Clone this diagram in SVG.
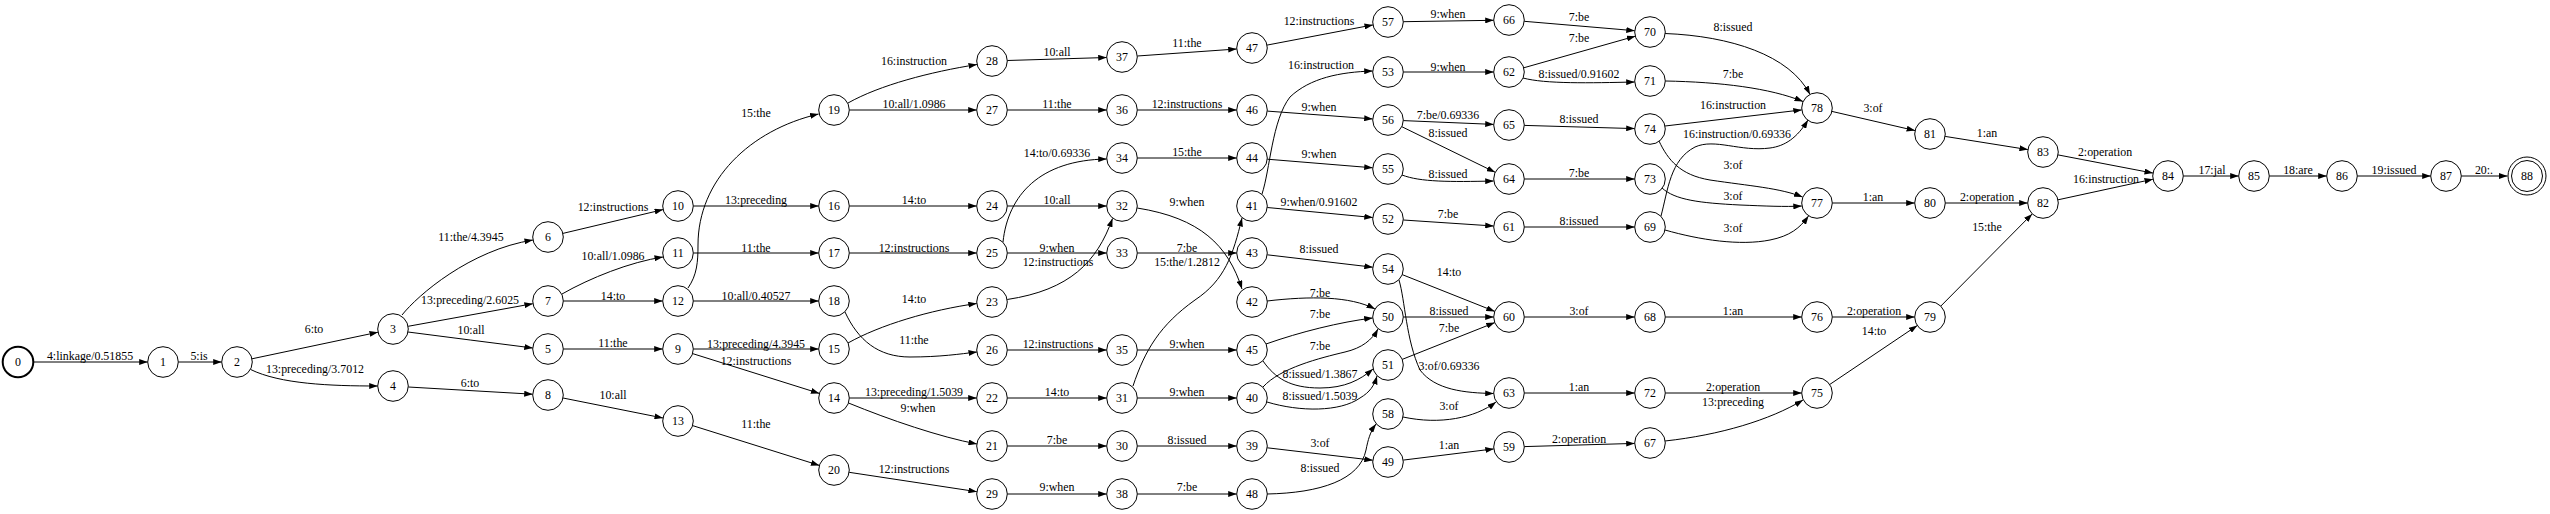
<svg xmlns="http://www.w3.org/2000/svg" width="2550" height="514" viewBox="0 0 2550 514">
<style>
.node circle{fill:#fff;stroke:#000;stroke-width:1}
.node text,.lbl text{font-family:"Liberation Serif","Times New Roman",serif;font-size:11.9px;fill:#000;text-anchor:middle}
.edges path{fill:none;stroke:#000;stroke-width:1;marker-end:url(#ah)}
</style>
<defs>
<marker id="ah" viewBox="0 0 10 7" refX="10" refY="3.5" markerWidth="8.5" markerHeight="6" markerUnits="userSpaceOnUse" orient="auto"><path d="M0,0 L10,3.5 L0,7 z" fill="#000"/></marker>
</defs>
<rect width="2550" height="514" fill="#fff"/>
<g id="connectors" class="edges">
<path d="M34,362 L147.7,362"/>
<path d="M178.3,362 L221.7,362"/>
<path d="M252,358.8 L378,332.2"/>
<path d="M250.4,369.4 C280,384 330,386 377.7,386"/>
<path d="M402,315 C418,295 470,250 533,240"/>
<path d="M408.1,326.3 L532.9,303.7"/>
<path d="M408,332 Q470,340 532.8,348"/>
<path d="M408.3,387 L532.7,394.2"/>
<path d="M562.9,233.4 L663.1,209.6"/>
<path d="M562,294 C590,278 630,262 663,257"/>
<path d="M563.3,301 L662.7,301"/>
<path d="M563.3,349 L662.7,349"/>
<path d="M563,398 L663,418"/>
<path d="M693.3,206 L818.7,206"/>
<path d="M693.3,253 L818.7,253"/>
<path d="M688,288 C697,275 698,262 698,245 C698,180 750,130 818.6,114"/>
<path d="M693.3,301 L818.7,301"/>
<path d="M693.3,349 L818.7,349"/>
<path d="M692.6,353.6 L819.4,393.4"/>
<path d="M692.6,425.6 L819.4,465.4"/>
<path d="M848,103 C880,85 930,72 977,64.5"/>
<path d="M849.3,110 L976.7,110"/>
<path d="M849.3,206 L976.7,206"/>
<path d="M849.3,253 L976.7,253"/>
<path d="M845,312 C858,340 878,357 910,357 C940,357 960,354 977,352"/>
<path d="M848,343 C880,325 930,310 976.8,303.5"/>
<path d="M849.3,398 L976.7,398"/>
<path d="M848.5,403 C890,420 940,437 977,444"/>
<path d="M849.1,472.3 L976.9,491.7"/>
<path d="M1007.3,60.5 L1106.7,57.5"/>
<path d="M1007.3,110 L1106.7,110"/>
<path d="M1007.3,206 L1106.7,206"/>
<path d="M1003,242 C1008,195 1040,160 1106.7,159"/>
<path d="M1007.3,253 L1106.7,253"/>
<path d="M1007.2,299.5 C1070,290 1097,262 1112.5,218.5"/>
<path d="M1007.3,350 L1106.7,350"/>
<path d="M1007.3,398 L1106.7,398"/>
<path d="M1007.3,446 L1106.7,446"/>
<path d="M1007.3,494 L1106.7,494"/>
<path d="M1137.3,56 L1236.7,49"/>
<path d="M1137.3,110 L1236.7,110"/>
<path d="M1137.3,158 L1236.7,158"/>
<path d="M1137.2,208 C1200,218 1228,245 1242,289"/>
<path d="M1137.3,253 L1236.7,253"/>
<path d="M1133,386 C1145,350 1160,325 1195,300 C1225,280 1233,255 1242,218"/>
<path d="M1137.3,350 L1236.7,350"/>
<path d="M1137.3,398 L1236.7,398"/>
<path d="M1137.3,446 L1236.7,446"/>
<path d="M1137.3,494 L1236.7,494"/>
<path d="M1267,45.1 L1373,24.9"/>
<path d="M1267.3,111.1 L1372.7,118.9"/>
<path d="M1267.3,159.2 L1372.7,167.8"/>
<path d="M1262,194 C1270,170 1272,120 1290,97 C1310,78 1340,72 1372.7,71"/>
<path d="M1267.2,207.5 L1372.8,217.5"/>
<path d="M1267.2,254.8 L1372.8,267.2"/>
<path d="M1267,301 C1310,296 1350,296 1375,309"/>
<path d="M1266,344 C1300,332 1340,322 1372.7,318"/>
<path d="M1263,361 C1275,378 1290,388 1320,388 C1345,388 1360,380 1373,369"/>
<path d="M1263,387 C1280,368 1320,358 1345,352 C1362,348 1372,340 1378,329"/>
<path d="M1267,402 C1300,412 1340,412 1360,398 C1370,392 1374,386 1377,376"/>
<path d="M1267.2,447.8 L1372.8,460.2"/>
<path d="M1267,494 C1320,493 1360,480 1366,450 C1368,440 1370,432 1376,424"/>
<path d="M1403.3,21.7 L1493.7,20.3"/>
<path d="M1403.3,72 L1493.7,72"/>
<path d="M1403.3,120.6 L1493.7,124.4"/>
<path d="M1401.8,126.7 L1495.2,172.3"/>
<path d="M1402,175 C1420,182 1450,182 1493.7,181"/>
<path d="M1403.3,220 L1493.7,226"/>
<path d="M1402.2,274.6 L1494.8,311.4"/>
<path d="M1399,280 C1405,300 1406,340 1420,370 C1435,390 1465,393 1493.7,393.5"/>
<path d="M1403.3,317 L1493.7,317"/>
<path d="M1402.2,359.4 L1494.8,322.6"/>
<path d="M1403,417 C1440,425 1475,418 1496,402"/>
<path d="M1403.2,460.1 L1493.8,448.9"/>
<path d="M1524.2,21.3 L1634.8,30.7"/>
<path d="M1523.7,67.8 L1635.3,36.2"/>
<path d="M1523,78 C1545,84 1590,83 1634.7,82"/>
<path d="M1524.3,125.4 L1634.7,128.6"/>
<path d="M1524.3,179 L1634.7,179"/>
<path d="M1524.3,227 L1634.7,227"/>
<path d="M1524.3,317 L1634.7,317"/>
<path d="M1524.3,393 L1634.7,393"/>
<path d="M1524.3,446.6 L1634.7,443.4"/>
<path d="M1665,33.5 C1730,36 1790,55 1810,94.5"/>
<path d="M1665.3,81 C1720,82 1770,88 1803,101.5"/>
<path d="M1665,126 L1801.8,109.9"/>
<path d="M1661,216 C1668,190 1670,160 1695,147 C1715,138 1740,152 1770,148 C1785,146 1797,138 1808,120"/>
<path d="M1659,141 C1668,160 1680,175 1710,180 C1750,186 1780,188 1802.5,197"/>
<path d="M1662,188 C1675,200 1700,203 1740,205 C1765,206 1785,207 1801.8,206"/>
<path d="M1665,230 C1700,240 1740,246 1770,240 C1790,236 1800,228 1808.5,216"/>
<path d="M1665.3,317 L1801.7,317"/>
<path d="M1665.3,393 L1801.7,393"/>
<path d="M1665,441 C1720,435 1770,420 1803,400"/>
<path d="M1831.9,111.4 L1915.1,130.6"/>
<path d="M1832.3,203 L1914.7,203"/>
<path d="M1832.3,317 L1914.7,317"/>
<path d="M1829.7,384.5 L1917.3,325.5"/>
<path d="M1945.1,136.4 L2027.9,149.6"/>
<path d="M1945.3,203 L2027.7,203"/>
<path d="M1940.8,306.1 L2032.2,213.9"/>
<path d="M2058,154.9 L2153,173.1"/>
<path d="M2058,199.8 L2153,179.2"/>
<path d="M2183.3,176 L2238.7,176"/>
<path d="M2269.3,176 L2326.7,176"/>
<path d="M2357.3,176 L2430.7,176"/>
<path d="M2461.3,176 L2507.5,176"/>
</g>
<g id="edge-labels" class="lbl">
<text x="90" y="360">4:linkage/0.51855</text>
<text x="199" y="360">5:is</text>
<text x="314" y="333">6:to</text>
<text x="315" y="373">13:preceding/3.7012</text>
<text x="471" y="241">11:the/4.3945</text>
<text x="470" y="304">13:preceding/2.6025</text>
<text x="471" y="334">10:all</text>
<text x="470" y="387">6:to</text>
<text x="613" y="211">12:instructions</text>
<text x="613" y="260">10:all/1.0986</text>
<text x="613" y="300">14:to</text>
<text x="613" y="347">11:the</text>
<text x="613" y="399">10:all</text>
<text x="756" y="117">15:the</text>
<text x="756" y="204">13:preceding</text>
<text x="756" y="252">11:the</text>
<text x="756" y="300">10:all/0.40527</text>
<text x="756" y="348">13:preceding/4.3945</text>
<text x="756" y="365">12:instructions</text>
<text x="756" y="428">11:the</text>
<text x="914" y="65">16:instruction</text>
<text x="914" y="108">10:all/1.0986</text>
<text x="914" y="204">14:to</text>
<text x="914" y="252">12:instructions</text>
<text x="914" y="303">14:to</text>
<text x="914" y="344">11:the</text>
<text x="914" y="396">13:preceding/1.5039</text>
<text x="918" y="412">9:when</text>
<text x="914" y="473">12:instructions</text>
<text x="1057" y="56">10:all</text>
<text x="1057" y="108">11:the</text>
<text x="1057" y="157">14:to/0.69336</text>
<text x="1057" y="204">10:all</text>
<text x="1057" y="252">9:when</text>
<text x="1058" y="266">12:instructions</text>
<text x="1058" y="348">12:instructions</text>
<text x="1057" y="396">14:to</text>
<text x="1057" y="444">7:be</text>
<text x="1057" y="491">9:when</text>
<text x="1187" y="47">11:the</text>
<text x="1187" y="108">12:instructions</text>
<text x="1187" y="156">15:the</text>
<text x="1187" y="206">9:when</text>
<text x="1187" y="252">7:be</text>
<text x="1187" y="266">15:the/1.2812</text>
<text x="1187" y="348">9:when</text>
<text x="1187" y="396">9:when</text>
<text x="1187" y="444">8:issued</text>
<text x="1187" y="491">7:be</text>
<text x="1319" y="25">12:instructions</text>
<text x="1321" y="69">16:instruction</text>
<text x="1319" y="111">9:when</text>
<text x="1319" y="158">9:when</text>
<text x="1319" y="206">9:when/0.91602</text>
<text x="1319" y="253">8:issued</text>
<text x="1320" y="297">7:be</text>
<text x="1320" y="318">7:be</text>
<text x="1320" y="350">7:be</text>
<text x="1320" y="378">8:issued/1.3867</text>
<text x="1320" y="400">8:issued/1.5039</text>
<text x="1320" y="447">3:of</text>
<text x="1320" y="472">8:issued</text>
<text x="1448" y="18">9:when</text>
<text x="1448" y="71">9:when</text>
<text x="1448" y="119">7:be/0.69336</text>
<text x="1448" y="137">8:issued</text>
<text x="1448" y="178">8:issued</text>
<text x="1448" y="218">7:be</text>
<text x="1449" y="276">14:to</text>
<text x="1449" y="315">8:issued</text>
<text x="1449" y="332">7:be</text>
<text x="1449" y="370">3:of/0.69336</text>
<text x="1449" y="410">3:of</text>
<text x="1449" y="449">1:an</text>
<text x="1579" y="21">7:be</text>
<text x="1579" y="42">7:be</text>
<text x="1579" y="78">8:issued/0.91602</text>
<text x="1579" y="123">8:issued</text>
<text x="1579" y="177">7:be</text>
<text x="1579" y="225">8:issued</text>
<text x="1579" y="315">3:of</text>
<text x="1579" y="391">1:an</text>
<text x="1579" y="443">2:operation</text>
<text x="1733" y="31">8:issued</text>
<text x="1733" y="78">7:be</text>
<text x="1733" y="109">16:instruction</text>
<text x="1737" y="138">16:instruction/0.69336</text>
<text x="1733" y="169">3:of</text>
<text x="1733" y="200">3:of</text>
<text x="1733" y="232">3:of</text>
<text x="1733" y="315">1:an</text>
<text x="1733" y="391">2:operation</text>
<text x="1733" y="406">13:preceding</text>
<text x="1873" y="112">3:of</text>
<text x="1873" y="201">1:an</text>
<text x="1874" y="315">2:operation</text>
<text x="1874" y="335">14:to</text>
<text x="1987" y="231">15:the</text>
<text x="1987" y="137">1:an</text>
<text x="1987" y="201">2:operation</text>
<text x="2105" y="156">2:operation</text>
<text x="2106" y="183">16:instruction</text>
<text x="2212" y="174">17:jal</text>
<text x="2298" y="174">18:are</text>
<text x="2394" y="174">19:issued</text>
<text x="2484" y="174">20:.</text>
</g>
<g id="n0" class="node"><circle cx="18" cy="362" r="15.3" style="stroke-width:2"/><text x="18" y="366">0</text></g>
<g id="n1" class="node"><circle cx="163" cy="362" r="15.3"/><text x="163" y="366">1</text></g>
<g id="n2" class="node"><circle cx="237" cy="362" r="15.3"/><text x="237" y="366">2</text></g>
<g id="n3" class="node"><circle cx="393" cy="329" r="15.3"/><text x="393" y="333">3</text></g>
<g id="n4" class="node"><circle cx="393" cy="386" r="15.3"/><text x="393" y="390">4</text></g>
<g id="n5" class="node"><circle cx="548" cy="349" r="15.3"/><text x="548" y="353">5</text></g>
<g id="n6" class="node"><circle cx="548" cy="237" r="15.3"/><text x="548" y="241">6</text></g>
<g id="n7" class="node"><circle cx="548" cy="301" r="15.3"/><text x="548" y="305">7</text></g>
<g id="n8" class="node"><circle cx="548" cy="395" r="15.3"/><text x="548" y="399">8</text></g>
<g id="n9" class="node"><circle cx="678" cy="349" r="15.3"/><text x="678" y="353">9</text></g>
<g id="n10" class="node"><circle cx="678" cy="206" r="15.3"/><text x="678" y="210">10</text></g>
<g id="n11" class="node"><circle cx="678" cy="253" r="15.3"/><text x="678" y="257">11</text></g>
<g id="n12" class="node"><circle cx="678" cy="301" r="15.3"/><text x="678" y="305">12</text></g>
<g id="n13" class="node"><circle cx="678" cy="421" r="15.3"/><text x="678" y="425">13</text></g>
<g id="n14" class="node"><circle cx="834" cy="398" r="15.3"/><text x="834" y="402">14</text></g>
<g id="n15" class="node"><circle cx="834" cy="349" r="15.3"/><text x="834" y="353">15</text></g>
<g id="n16" class="node"><circle cx="834" cy="206" r="15.3"/><text x="834" y="210">16</text></g>
<g id="n17" class="node"><circle cx="834" cy="253" r="15.3"/><text x="834" y="257">17</text></g>
<g id="n18" class="node"><circle cx="834" cy="301" r="15.3"/><text x="834" y="305">18</text></g>
<g id="n19" class="node"><circle cx="834" cy="110" r="15.3"/><text x="834" y="114">19</text></g>
<g id="n20" class="node"><circle cx="834" cy="470" r="15.3"/><text x="834" y="474">20</text></g>
<g id="n21" class="node"><circle cx="992" cy="446" r="15.3"/><text x="992" y="450">21</text></g>
<g id="n22" class="node"><circle cx="992" cy="398" r="15.3"/><text x="992" y="402">22</text></g>
<g id="n23" class="node"><circle cx="992" cy="302" r="15.3"/><text x="992" y="306">23</text></g>
<g id="n24" class="node"><circle cx="992" cy="206" r="15.3"/><text x="992" y="210">24</text></g>
<g id="n25" class="node"><circle cx="992" cy="253" r="15.3"/><text x="992" y="257">25</text></g>
<g id="n26" class="node"><circle cx="992" cy="350" r="15.3"/><text x="992" y="354">26</text></g>
<g id="n27" class="node"><circle cx="992" cy="110" r="15.3"/><text x="992" y="114">27</text></g>
<g id="n28" class="node"><circle cx="992" cy="61" r="15.3"/><text x="992" y="65">28</text></g>
<g id="n29" class="node"><circle cx="992" cy="494" r="15.3"/><text x="992" y="498">29</text></g>
<g id="n30" class="node"><circle cx="1122" cy="446" r="15.3"/><text x="1122" y="450">30</text></g>
<g id="n31" class="node"><circle cx="1122" cy="398" r="15.3"/><text x="1122" y="402">31</text></g>
<g id="n32" class="node"><circle cx="1122" cy="206" r="15.3"/><text x="1122" y="210">32</text></g>
<g id="n33" class="node"><circle cx="1122" cy="253" r="15.3"/><text x="1122" y="257">33</text></g>
<g id="n34" class="node"><circle cx="1122" cy="158" r="15.3"/><text x="1122" y="162">34</text></g>
<g id="n35" class="node"><circle cx="1122" cy="350" r="15.3"/><text x="1122" y="354">35</text></g>
<g id="n36" class="node"><circle cx="1122" cy="110" r="15.3"/><text x="1122" y="114">36</text></g>
<g id="n37" class="node"><circle cx="1122" cy="57" r="15.3"/><text x="1122" y="61">37</text></g>
<g id="n38" class="node"><circle cx="1122" cy="494" r="15.3"/><text x="1122" y="498">38</text></g>
<g id="n39" class="node"><circle cx="1252" cy="446" r="15.3"/><text x="1252" y="450">39</text></g>
<g id="n40" class="node"><circle cx="1252" cy="398" r="15.3"/><text x="1252" y="402">40</text></g>
<g id="n41" class="node"><circle cx="1252" cy="206" r="15.3"/><text x="1252" y="210">41</text></g>
<g id="n42" class="node"><circle cx="1252" cy="302" r="15.3"/><text x="1252" y="306">42</text></g>
<g id="n43" class="node"><circle cx="1252" cy="253" r="15.3"/><text x="1252" y="257">43</text></g>
<g id="n44" class="node"><circle cx="1252" cy="158" r="15.3"/><text x="1252" y="162">44</text></g>
<g id="n45" class="node"><circle cx="1252" cy="350" r="15.3"/><text x="1252" y="354">45</text></g>
<g id="n46" class="node"><circle cx="1252" cy="110" r="15.3"/><text x="1252" y="114">46</text></g>
<g id="n47" class="node"><circle cx="1252" cy="48" r="15.3"/><text x="1252" y="52">47</text></g>
<g id="n48" class="node"><circle cx="1252" cy="494" r="15.3"/><text x="1252" y="498">48</text></g>
<g id="n49" class="node"><circle cx="1388" cy="462" r="15.3"/><text x="1388" y="466">49</text></g>
<g id="n50" class="node"><circle cx="1388" cy="317" r="15.3"/><text x="1388" y="321">50</text></g>
<g id="n51" class="node"><circle cx="1388" cy="365" r="15.3"/><text x="1388" y="369">51</text></g>
<g id="n52" class="node"><circle cx="1388" cy="219" r="15.3"/><text x="1388" y="223">52</text></g>
<g id="n53" class="node"><circle cx="1388" cy="72" r="15.3"/><text x="1388" y="76">53</text></g>
<g id="n54" class="node"><circle cx="1388" cy="269" r="15.3"/><text x="1388" y="273">54</text></g>
<g id="n55" class="node"><circle cx="1388" cy="169" r="15.3"/><text x="1388" y="173">55</text></g>
<g id="n56" class="node"><circle cx="1388" cy="120" r="15.3"/><text x="1388" y="124">56</text></g>
<g id="n57" class="node"><circle cx="1388" cy="22" r="15.3"/><text x="1388" y="26">57</text></g>
<g id="n58" class="node"><circle cx="1388" cy="414" r="15.3"/><text x="1388" y="418">58</text></g>
<g id="n59" class="node"><circle cx="1509" cy="447" r="15.3"/><text x="1509" y="451">59</text></g>
<g id="n60" class="node"><circle cx="1509" cy="317" r="15.3"/><text x="1509" y="321">60</text></g>
<g id="n61" class="node"><circle cx="1509" cy="227" r="15.3"/><text x="1509" y="231">61</text></g>
<g id="n62" class="node"><circle cx="1509" cy="72" r="15.3"/><text x="1509" y="76">62</text></g>
<g id="n63" class="node"><circle cx="1509" cy="393" r="15.3"/><text x="1509" y="397">63</text></g>
<g id="n64" class="node"><circle cx="1509" cy="179" r="15.3"/><text x="1509" y="183">64</text></g>
<g id="n65" class="node"><circle cx="1509" cy="125" r="15.3"/><text x="1509" y="129">65</text></g>
<g id="n66" class="node"><circle cx="1509" cy="20" r="15.3"/><text x="1509" y="24">66</text></g>
<g id="n67" class="node"><circle cx="1650" cy="443" r="15.3"/><text x="1650" y="447">67</text></g>
<g id="n68" class="node"><circle cx="1650" cy="317" r="15.3"/><text x="1650" y="321">68</text></g>
<g id="n69" class="node"><circle cx="1650" cy="227" r="15.3"/><text x="1650" y="231">69</text></g>
<g id="n70" class="node"><circle cx="1650" cy="32" r="15.3"/><text x="1650" y="36">70</text></g>
<g id="n71" class="node"><circle cx="1650" cy="81" r="15.3"/><text x="1650" y="85">71</text></g>
<g id="n72" class="node"><circle cx="1650" cy="393" r="15.3"/><text x="1650" y="397">72</text></g>
<g id="n73" class="node"><circle cx="1650" cy="179" r="15.3"/><text x="1650" y="183">73</text></g>
<g id="n74" class="node"><circle cx="1650" cy="129" r="15.3"/><text x="1650" y="133">74</text></g>
<g id="n75" class="node"><circle cx="1817" cy="393" r="15.3"/><text x="1817" y="397">75</text></g>
<g id="n76" class="node"><circle cx="1817" cy="317" r="15.3"/><text x="1817" y="321">76</text></g>
<g id="n77" class="node"><circle cx="1817" cy="203" r="15.3"/><text x="1817" y="207">77</text></g>
<g id="n78" class="node"><circle cx="1817" cy="108" r="15.3"/><text x="1817" y="112">78</text></g>
<g id="n79" class="node"><circle cx="1930" cy="317" r="15.3"/><text x="1930" y="321">79</text></g>
<g id="n80" class="node"><circle cx="1930" cy="203" r="15.3"/><text x="1930" y="207">80</text></g>
<g id="n81" class="node"><circle cx="1930" cy="134" r="15.3"/><text x="1930" y="138">81</text></g>
<g id="n82" class="node"><circle cx="2043" cy="203" r="15.3"/><text x="2043" y="207">82</text></g>
<g id="n83" class="node"><circle cx="2043" cy="152" r="15.3"/><text x="2043" y="156">83</text></g>
<g id="n84" class="node"><circle cx="2168" cy="176" r="15.3"/><text x="2168" y="180">84</text></g>
<g id="n85" class="node"><circle cx="2254" cy="176" r="15.3"/><text x="2254" y="180">85</text></g>
<g id="n86" class="node"><circle cx="2342" cy="176" r="15.3"/><text x="2342" y="180">86</text></g>
<g id="n87" class="node"><circle cx="2446" cy="176" r="15.3"/><text x="2446" y="180">87</text></g>
<g id="n88" class="node"><circle cx="2527" cy="176" r="19"/><circle cx="2527" cy="176" r="15.5"/><text x="2527" y="180">88</text></g>
</svg>
